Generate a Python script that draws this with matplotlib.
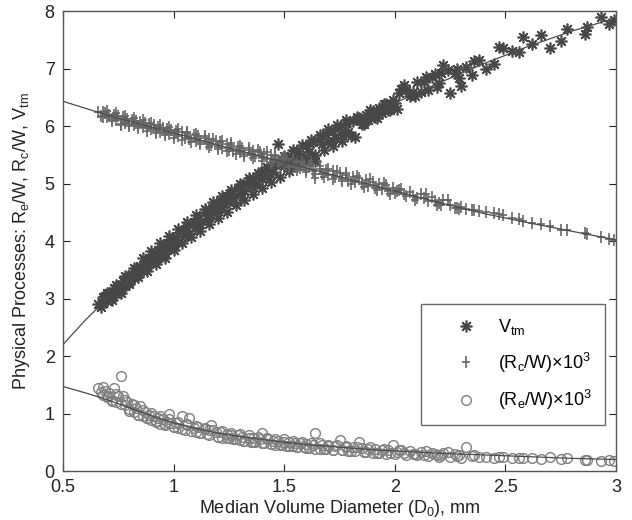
import matplotlib
matplotlib.use("Agg")
import matplotlib.pyplot as plt
from matplotlib.path import Path

plt.rcParams['font.family'] = ['Liberation Sans', 'DejaVu Sans']
plt.rcParams['mathtext.fontset'] = 'custom'
plt.rcParams['mathtext.rm'] = 'Liberation Sans'
plt.rcParams['mathtext.it'] = 'Liberation Sans'

# Median volume diameter D0 (mm) of each sample
d0 = [0.66, 0.67, 0.68, 0.68, 0.69, 0.70, 0.71, 0.72, 0.73, 0.74, 0.75, 0.76, 0.77, 0.78, 0.79,
      0.80, 0.81, 0.82, 0.83, 0.84, 0.85, 0.86, 0.87, 0.88, 0.89, 0.90, 0.91, 0.92, 0.93, 0.94,
      0.95, 0.96, 0.97, 0.98, 0.99,
      1.00, 1.01, 1.02, 1.04, 1.05, 1.06, 1.07, 1.09, 1.10, 1.11, 1.12, 1.14, 1.15, 1.16, 1.17,
      1.19, 1.20, 1.21, 1.22, 1.24, 1.25, 1.26, 1.27, 1.29, 1.30, 1.31, 1.32, 1.34, 1.35, 1.36,
      1.37, 1.39, 1.40, 1.41, 1.42, 1.44, 1.45, 1.46, 1.47, 1.49, 1.50, 1.51, 1.52, 1.54, 1.55,
      1.56, 1.57, 1.59,
      1.60, 1.61, 1.63, 1.64, 1.66, 1.67, 1.69, 1.70, 1.72, 1.73, 1.75, 1.76, 1.78, 1.79, 1.81,
      1.82, 1.84, 1.85, 1.87, 1.88, 1.90, 1.91, 1.93, 1.94, 1.96, 1.97, 1.99,
      2.00, 2.02, 2.05, 2.07, 2.10, 2.12, 2.15, 2.17, 2.20, 2.22, 2.25, 2.27, 2.30, 2.32, 2.35, 2.38,
      2.41, 2.45, 2.49, 2.53, 2.56, 2.58, 2.62, 2.66, 2.70, 2.75, 2.78, 2.86, 2.93, 2.97, 2.99,
      2.01, 2.04, 2.08, 2.13, 2.18, 2.21, 2.28, 2.36, 2.47, 2.87,
      0.70, 0.72, 0.74, 0.76, 0.78, 0.80, 0.82, 0.84, 0.86, 0.88, 0.90, 0.92, 0.94, 0.96, 0.98,
      1.00, 1.02, 1.04, 1.06, 1.08, 1.10, 1.12, 1.14, 1.16, 1.18, 1.20, 1.22, 1.24, 1.26, 1.28,
      1.30, 1.32, 1.34, 1.36, 1.38, 1.40, 1.42, 1.44, 1.46, 1.48, 1.50, 1.52, 1.54, 1.56, 1.58,
      1.60, 1.62, 1.64, 1.66, 1.68, 1.70, 1.72, 1.74, 1.76, 1.78, 1.80, 1.83, 1.86, 1.89, 1.92,
      1.95, 1.98, 2.03, 2.09, 2.14, 2.19, 2.24, 2.29]

# Terminal velocity V_tm
vtm = [2.90, 2.85, 3.02, 2.92, 3.05, 2.96, 3.10, 3.03, 3.18, 3.08, 3.22, 3.15, 3.30, 3.22, 3.38,
       3.28, 3.42, 3.35, 3.52, 3.43, 3.56, 3.48, 3.63, 3.55, 3.70, 3.62, 3.76, 3.68, 3.84, 3.74,
       3.88, 3.80, 3.96, 3.88, 4.01,
       3.93, 4.07, 3.99, 4.17, 4.08, 4.24, 4.14, 4.33, 4.24, 4.39, 4.30, 4.49, 4.39, 4.55, 4.45,
       4.63, 4.53, 4.70, 4.60, 4.78, 4.68, 4.84, 4.74, 4.92, 4.82, 4.97, 4.87, 5.05, 4.95, 5.10,
       5.00, 5.17, 5.08, 5.22, 5.13, 5.29, 5.20, 5.34, 5.69, 5.40, 5.30, 5.45, 5.35, 5.52, 5.42,
       5.57, 5.47, 5.46,
       5.66, 5.55, 5.73, 5.39, 5.79, 5.68, 5.86, 5.73, 5.92, 5.79, 5.98, 5.85, 6.05, 5.90, 6.08,
       5.81, 6.14, 6.04, 6.20, 6.10, 6.26, 6.16, 6.32, 6.22, 6.38, 6.27, 6.46,
       6.40, 6.58, 6.63, 6.52, 6.77, 6.60, 6.63, 6.86, 6.74, 7.06, 6.57, 6.93, 6.70, 7.03, 6.89, 7.15,
       7.00, 7.08, 7.35, 7.30, 7.28, 7.55, 7.43, 7.58, 7.35, 7.48, 7.68, 7.60, 7.89, 7.77, 7.85,
       6.30, 6.71, 6.60, 6.77, 6.90, 6.93, 7.00, 7.13, 7.37, 7.72,
       3.10, 2.97, 3.24, 3.10, 3.40, 3.25, 3.53, 3.37, 3.71, 3.47, 3.83, 3.60, 3.96, 3.71, 4.08,
       3.84, 4.21, 3.96, 4.33, 4.07, 4.45, 4.18, 4.56, 4.29, 4.67, 4.40, 4.78, 4.51, 4.89, 4.62,
       5.00, 4.72, 5.10, 4.82, 5.19, 4.93, 5.29, 5.03, 5.38, 5.12, 5.48, 5.22, 5.58, 5.31, 5.67,
       5.40, 5.76, 5.49, 5.85, 5.58, 5.94, 5.66, 6.02, 5.74, 6.11, 5.83, 6.16, 6.03, 6.27, 6.14,
       6.38, 6.28, 6.65, 6.52, 6.85, 6.68, 6.98, 6.84]

# Collision rate (R_c/W) x 10^3
rc = [6.25, 6.18, 6.24, 6.16, 6.22, 6.15, 6.20, 6.12, 6.19, 6.11, 6.17, 6.02, 6.15, 6.06, 6.13,
      6.04, 6.11, 6.02, 6.09, 6.00, 6.07, 5.98, 6.05, 5.96, 6.03, 5.94, 6.01, 5.92, 5.99, 5.90,
      5.97, 5.88, 5.95, 5.86, 5.93,
      5.84, 5.91, 5.82, 5.89, 5.79, 5.87, 5.77, 5.84, 5.74, 5.82, 5.72, 5.79, 5.69, 5.77, 5.67,
      5.74, 5.64, 5.72, 5.62, 5.69, 5.59, 5.67, 5.57, 5.64, 5.54, 5.62, 5.52, 5.59, 5.49, 5.57,
      5.47, 5.54, 5.44, 5.52, 5.42, 5.49, 5.39, 5.47, 5.37, 5.44, 5.34, 5.42, 5.32, 5.39, 5.29,
      5.37, 5.27, 5.33,
      5.24, 5.31, 5.21, 5.10, 5.26, 5.17, 5.24, 5.14, 5.21, 5.11, 5.18, 5.08, 5.15, 5.05, 5.12,
      5.02, 5.09, 4.99, 5.06, 4.96, 5.03, 4.93, 5.00, 4.90, 4.97, 4.87, 4.93,
      4.84, 4.89, 4.79, 4.85, 4.75, 4.81, 4.70, 4.77, 4.66, 4.72, 4.62, 4.58, 4.60, 4.55, 4.54, 4.52,
      4.50, 4.48, 4.45, 4.40, 4.38, 4.35, 4.31, 4.30, 4.26, 4.20, 4.20, 4.14, 4.07, 4.03, 4.02,
      4.87, 4.82, 4.78, 4.74, 4.69, 4.63, 4.57, 4.54, 4.47, 4.12,
      6.26, 6.08, 6.22, 6.04, 6.18, 6.00, 6.14, 5.96, 6.10, 5.92, 6.06, 5.88, 6.02, 5.84, 5.98,
      5.80, 5.94, 5.76, 5.90, 5.72, 5.86, 5.68, 5.82, 5.64, 5.78, 5.60, 5.74, 5.56, 5.70, 5.52,
      5.66, 5.48, 5.62, 5.44, 5.58, 5.40, 5.54, 5.36, 5.50, 5.32, 5.46, 5.28, 5.42, 5.24, 5.38,
      5.20, 5.34, 5.16, 5.30, 5.12, 5.26, 5.08, 5.22, 5.04, 5.18, 5.00, 5.13, 4.94, 5.07, 4.88,
      5.01, 4.82, 4.91, 4.72, 4.81, 4.63, 4.72, 4.55]

# Evaporation rate (R_e/W) x 10^3
re = [1.44, 1.38, 1.46, 1.32, 1.40, 1.28, 1.36, 1.24, 1.44, 1.20, 1.30, 1.65, 1.30, 1.14, 1.20,
      1.08, 1.16, 1.02, 1.10, 0.98, 1.13, 0.95, 1.02, 0.92, 0.98, 0.88, 0.96, 0.85, 0.92, 0.82,
      0.90, 0.80, 0.86, 1.00, 0.84,
      0.76, 0.84, 0.74, 0.96, 0.72, 0.80, 0.92, 0.75, 0.68, 0.76, 0.66, 0.73, 0.64, 0.71, 0.80,
      0.68, 0.60, 0.67, 0.58, 0.65, 0.57, 0.63, 0.55, 0.62, 0.54, 0.60, 0.53, 0.58, 0.51, 0.57,
      0.50, 0.56, 0.66, 0.49, 0.55, 0.47, 0.53, 0.46, 0.52, 0.45, 0.51, 0.44, 0.50, 0.43, 0.49,
      0.42, 0.48, 0.41,
      0.47, 0.40, 0.46, 0.66, 0.39, 0.45, 0.38, 0.44, 0.37, 0.43, 0.54, 0.36, 0.42, 0.35, 0.41,
      0.34, 0.50, 0.40, 0.33, 0.39, 0.32, 0.38, 0.31, 0.37, 0.30, 0.36, 0.46,
      0.30, 0.36, 0.28, 0.34, 0.27, 0.33, 0.26, 0.32, 0.25, 0.31, 0.24, 0.30, 0.23, 0.42, 0.26, 0.24,
      0.25, 0.23, 0.25, 0.23, 0.23, 0.22, 0.23, 0.21, 0.25, 0.21, 0.22, 0.19, 0.17, 0.19, 0.18,
      0.33, 0.31, 0.30, 0.28, 0.29, 0.27, 0.26, 0.27, 0.24, 0.20,
      1.30, 1.22, 1.34, 1.17, 1.24, 1.05, 1.14, 0.98, 1.06, 0.92, 1.01, 0.87, 0.95, 0.82, 0.90,
      0.77, 0.86, 0.73, 0.82, 0.70, 0.79, 0.66, 0.75, 0.63, 0.72, 0.59, 0.69, 0.57, 0.66, 0.55,
      0.64, 0.53, 0.62, 0.51, 0.60, 0.49, 0.58, 0.47, 0.56, 0.45, 0.55, 0.43, 0.53, 0.42, 0.51,
      0.40, 0.49, 0.39, 0.48, 0.38, 0.46, 0.37, 0.45, 0.36, 0.44, 0.35, 0.42, 0.33, 0.41, 0.32,
      0.39, 0.31, 0.37, 0.29, 0.35, 0.28, 0.33, 0.27]

# Fitted curves
fit_x = [0.5, 0.6, 0.7, 0.8, 0.9, 1.0, 1.1, 1.2, 1.3, 1.4, 1.5, 1.6, 1.7, 1.8, 1.9, 2.0,
         2.2, 2.4, 2.6, 2.8, 3.0]
fit_vtm = [2.20, 2.62, 3.00, 3.35, 3.68, 3.99, 4.28, 4.56, 4.83, 5.08, 5.32, 5.55, 5.77, 5.98,
           6.19, 6.40, 6.75, 7.08, 7.38, 7.65, 7.88]
fit_rc = [6.43, 6.31, 6.19, 6.08, 5.98, 5.88, 5.78, 5.67, 5.57, 5.47, 5.37, 5.27, 5.17, 5.07,
          4.97, 4.87, 4.67, 4.48, 4.32, 4.17, 4.02]
fit_re = [1.47, 1.36, 1.24, 1.10, 0.96, 0.84, 0.74, 0.66, 0.60, 0.55, 0.50, 0.46, 0.43, 0.40,
          0.37, 0.35, 0.31, 0.28, 0.25, 0.22, 0.20]

labels = [r'V$_{\rm tm}$', r'(R$_{\rm c}$/W)$\times$10$^{3}$', r'(R$_{\rm e}$/W)$\times$10$^{3}$']
xticks = [0.5, 1, 1.5, 2, 2.5, 3]
xtick_labels = ['0.5', '1', '1.5', '2', '2.5', '3']
yticks = [0, 1, 2, 3, 4, 5, 6, 7, 8]

# tall plus marker (as in the original rendering)
plus_marker = Path([(0, -1), (0, 1), (-0.7, 0), (0.7, 0)],
                   [Path.MOVETO, Path.LINETO, Path.MOVETO, Path.LINETO])

fig = plt.figure(figsize=(6.32, 5.2), dpi=100)
ax = fig.add_axes([0.0997, 0.0942, 0.875, 0.8846])

c_star = '#474747'
c_plus = '#666666'
c_circ = '#808080'
c_line = '#4a4a4a'

ax.plot(d0, vtm, linestyle='none', marker=(8, 2, 0), ms=8.5, mew=1.2, color=c_star, label=labels[0])
ax.plot(d0, rc, linestyle='none', marker=plus_marker, ms=8, mew=1.2, color=c_plus, label=labels[1])
ax.plot(d0, re, linestyle='none', marker='o', ms=7, mew=1.0, mfc='none', mec=c_circ, label=labels[2])

ax.plot(fit_x, fit_vtm, color=c_line, lw=0.9, zorder=3)
ax.plot(fit_x, fit_rc, color=c_line, lw=0.9, zorder=3)
ax.plot(fit_x, fit_re, color=c_line, lw=0.9, zorder=3)

ax.set_xlim(0.5, 3)
ax.set_ylim(0, 8)
ax.set_xticks(xticks)
ax.set_xticklabels(xtick_labels)
ax.set_yticks(yticks)
ax.tick_params(direction='in', top=True, right=True, length=5, width=0.8,
               labelsize=13, colors='#222222', pad=6)
for s in ax.spines.values():
    s.set_color('#555555')
    s.set_linewidth(1.0)

ax.set_xlabel(r'Median Volume Diameter (D$_{\rm 0}$), mm', fontsize=13, color='#222222', labelpad=1)
ax.set_ylabel(r'Physical Processes: R$_{\rm e}$/W, R$_{\rm c}$/W, V$_{\rm tm}$', fontsize=13,
              color='#222222', labelpad=9)

leg = ax.legend(loc='lower right', bbox_to_anchor=(0.98, 0.1), fontsize=13, frameon=True,
                fancybox=False, edgecolor='#444444', borderpad=0.7, labelspacing=0.75,
                handlelength=3.6, handletextpad=0.0, borderaxespad=0)
leg.get_frame().set_linewidth(1.0)

fig.savefig('out.png', dpi=100)
